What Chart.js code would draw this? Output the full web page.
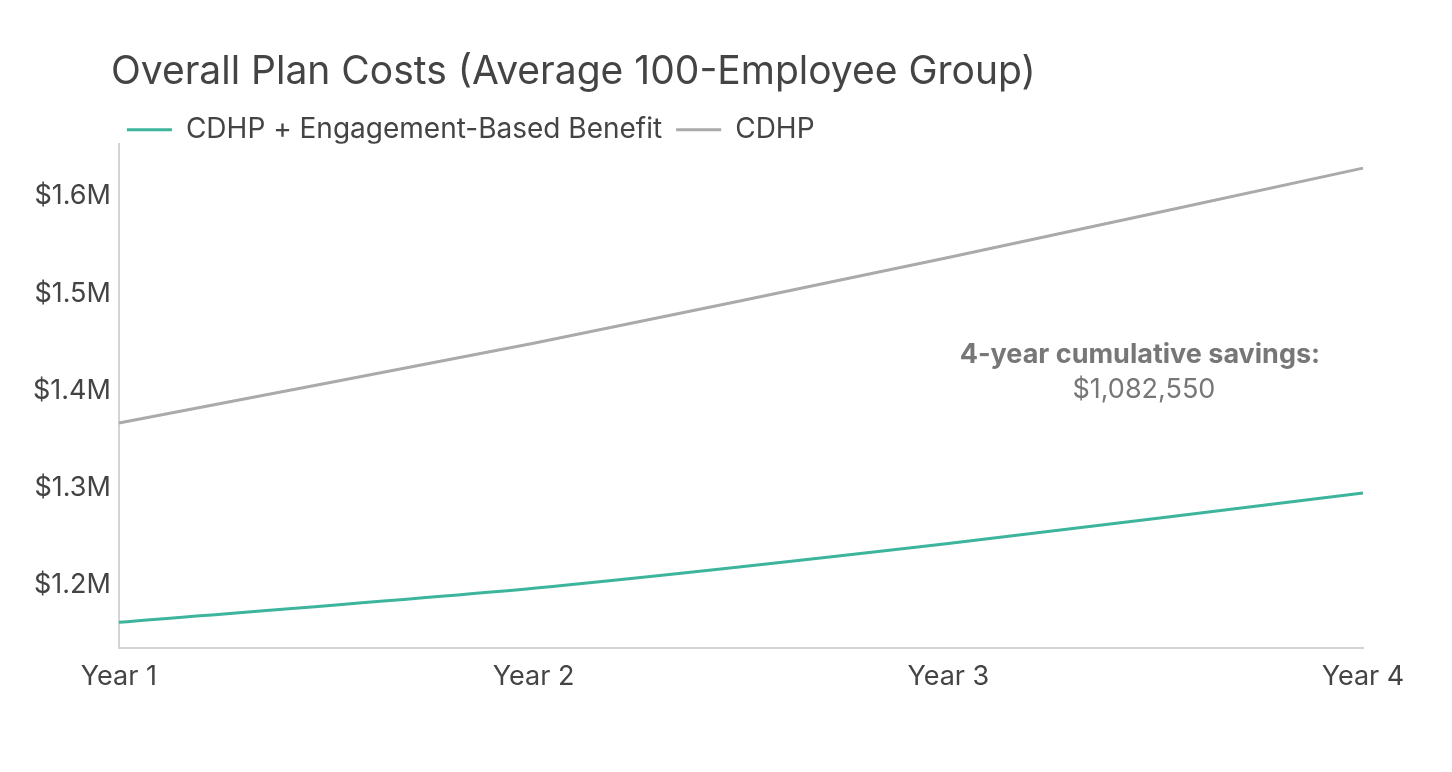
<!DOCTYPE html>
<html>
<head>
<meta charset="utf-8">
<script src="https://cdn.jsdelivr.net/npm/chart.js@4.4.0/dist/chart.umd.min.js"></script>
<style>
  html, body { margin: 0; padding: 0; background: #fff; }
  #wrap { position: relative; width: 1452px; height: 772px; }
</style>
</head>
<body>
<div id="wrap"><canvas id="planChart" width="1452" height="772"></canvas></div>
<script>
const years = ['Year 1', 'Year 2', 'Year 3', 'Year 4'];
const engagementCosts = [1162000, 1197000, 1243000, 1295000];
const cdhpCosts = [1367000, 1449000, 1537000, 1629000];
const yTicks = [1200000, 1300000, 1400000, 1500000, 1600000];
const savingsLabel = ['4-year cumulative savings:', '$1,082,550'];
const savingsValues = [1437000, 1401000]; // y position of each annotation line, in $

const FONT = 'Inter, "Noto Sans", sans-serif';
const TEXT = '#444';

// title + legend sit over the plot area, not at the canvas edge
const shiftHeader = {
  id: 'shiftHeader',
  beforeLayout(chart) {
    const legend = chart.legend;
    if (legend && !legend._trimmed) {
      const fit = legend.fit;
      legend.fit = function () { fit.call(this); this.height -= 10; };
      legend._trimmed = true;
    }
  },
  afterLayout(chart) {
    const left = chart.chartArea.left;
    const t = chart.titleBlock, l = chart.legend;
    if (t) { const dx = left - 8 - t.left; t.left += dx; t.right += dx; }
    if (l) { const dx = left + 8 - 14 - l.left; l.left += dx; l.right += dx; }
  }
};

const savingsNote = {
  id: 'savingsNote',
  afterDatasetsDraw(chart) {
    const {ctx, scales: {x, y}} = chart;
    const cx = x.getPixelForValue(2) + (x.getPixelForValue(3) - x.getPixelForValue(2)) * 0.462;
    ctx.save();
    ctx.fillStyle = '#777';
    ctx.textAlign = 'center';
    ctx.textBaseline = 'middle';
    ctx.font = 'bold 27px ' + FONT;
    ctx.fillText(savingsLabel[0], cx, y.getPixelForValue(savingsValues[0]));
    ctx.font = '27px ' + FONT;
    ctx.fillText(savingsLabel[1], cx + 4, y.getPixelForValue(savingsValues[1]));
    ctx.restore();
  }
};

const ctx = document.getElementById('planChart');
new Chart(ctx, {
  type: 'line',
  data: {
    labels: years,
    datasets: [
      {
        label: 'CDHP + Engagement-Based Benefit',
        data: engagementCosts,
        borderColor: '#3db59c',
        backgroundColor: '#3db59c',
        borderWidth: 3,
        pointRadius: 0,
        tension: 0.25
      },
      {
        label: 'CDHP',
        data: cdhpCosts,
        borderColor: '#aaaaaa',
        backgroundColor: '#aaaaaa',
        borderWidth: 3,
        pointRadius: 0,
        tension: 0.25
      }
    ]
  },
  options: {
    responsive: false,
    animation: false,
    layout: { padding: { top: 30, left: 33, right: 89, bottom: 74 } },
    plugins: {
      tooltip: { enabled: false },
      title: {
        display: true,
        text: 'Overall Plan Costs (Average 100-Employee Group)',
        align: 'start',
        color: TEXT,
        font: { family: FONT, size: 39, weight: 'normal' },
        padding: { top: 19, bottom: 6 }
      },
      legend: {
        display: true,
        align: 'start',
        labels: {
          color: TEXT,
          font: { family: FONT, size: 28 },
          usePointStyle: true,
          pointStyle: 'line',
          pointStyleWidth: 45,
          padding: 14
        }
      }
    },
    scales: {
      x: {
        offset: false,
        grid: { display: false },
        border: { display: true, color: '#d4d4d4', width: 2 },
        ticks: { color: TEXT, font: { family: FONT, size: 27 }, padding: 5, maxRotation: 0 }
      },
      y: {
        min: 1136000,
        max: 1654000,
        grid: { display: false },
        border: { display: true, color: '#d4d4d4', width: 2 },
        afterBuildTicks(scale) {
          scale.ticks = yTicks.map(v => ({ value: v }));
        },
        ticks: {
          color: TEXT,
          font: { family: FONT, size: 27 },
          padding: 0,
          callback: v => '$' + (v / 1000000).toFixed(1) + 'M'
        }
      }
    }
  },
  plugins: [shiftHeader, savingsNote]
});
</script>
</body>
</html>
